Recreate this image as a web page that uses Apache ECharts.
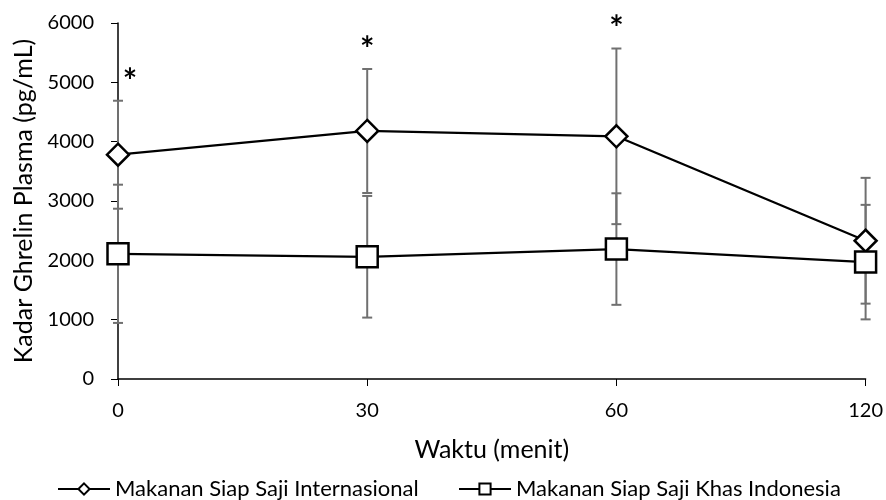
<!DOCTYPE html>
<html>
<head>
<meta charset="utf-8">
<script src="https://cdn.jsdelivr.net/npm/echarts@6/dist/echarts.min.js"></script>
<style>html,body{margin:0;padding:0;background:#fff}#c{width:886px;height:500px}</style>
</head>
<body>
<div id="c"></div>
<script>
var categories = ['0', '30', '60', '120'];
var seriesNames = ['Makanan Siap Saji Internasional', 'Makanan Siap Saji Khas Indonesia'];
var intlValues = [3780, 4180, 4090, 2330];
var intlErrors = [910, 1045, 1480, 1060];
var indoValues = [2110, 2060, 2190, 1970];
var indoErrors = [1165, 1025, 940, 965];
var intlStars = ['*', '*', '*', ''];
var yTicks = [0, 1000, 2000, 3000, 4000, 5000, 6000];
var xTitle = 'Waktu (menit)';
var yTitle = 'Kadar Ghrelin Plasma (pg/mL)';

var FONT = 'Lato';

function errData(vals, errs) {
  return vals.map(function (v, i) { return [i, v - errs[i], v + errs[i]]; });
}

function errRender(params, api) {
  var i = api.value(0);
  var lo = api.coord([i, api.value(1)]);
  var hi = api.coord([i, api.value(2)]);
  var w = 5;
  var st = { stroke: '#707070', lineWidth: 2 };
  var children = [
    { type: 'line', shape: { x1: lo[0], y1: lo[1], x2: hi[0], y2: hi[1] }, style: st },
    { type: 'line', shape: { x1: lo[0] - w, y1: lo[1], x2: lo[0] + w, y2: lo[1] }, style: st },
    { type: 'line', shape: { x1: hi[0] - w, y1: hi[1], x2: hi[0] + w, y2: hi[1] }, style: st }
  ];
  var star = params.seriesIndex === 0 ? intlStars[params.dataIndex] : '';
  if (star) {
    children.push({
      type: 'text',
      style: {
        text: star, x: hi[0] + (i === 0 ? 12 : 0), y: hi[1] - 19,
        fill: '#000', font: 'bold 34px ' + FONT, textAlign: 'center', textVerticalAlign: 'middle'
      }
    });
  }
  return { type: 'group', children: children };
}

var legendText = { fontFamily: FONT, fontSize: 22, lineHeight: 22, color: '#000' };

var chart = echarts.init(document.getElementById('c'), null, { renderer: 'canvas' });
chart.setOption({
  animation: false,
  textStyle: { fontFamily: FONT },
  grid: { left: 118, right: 19, top: 23, bottom: 121, containLabel: false },
  legend: [
    { left: 57, bottom: 0, padding: 0, itemWidth: 52, itemHeight: 14, textStyle: legendText, data: [seriesNames[0]] },
    { left: 458, bottom: 0, padding: 0, itemWidth: 52, itemHeight: 14, textStyle: legendText, data: [seriesNames[1]] }
  ],
  xAxis: {
    type: 'category', data: categories, boundaryGap: false,
    name: xTitle, nameLocation: 'middle', nameGap: 58,
    nameTextStyle: { fontFamily: FONT, fontSize: 25, color: '#000' },
    axisLine: { lineStyle: { color: '#000', width: 1.5 } },
    axisTick: { show: true, length: 7, alignWithLabel: true, lineStyle: { color: '#000' } },
    axisLabel: { color: '#000', fontSize: 20, fontFamily: FONT, margin: 22 },
    splitLine: { show: false }
  },
  yAxis: {
    type: 'value', min: yTicks[0], max: yTicks[yTicks.length - 1], interval: 1000,
    name: yTitle, nameLocation: 'middle', nameGap: 76, nameRotate: 90,
    nameTextStyle: { fontFamily: FONT, fontSize: 25, color: '#000' },
    axisLine: { show: true, lineStyle: { color: '#000', width: 1.5 } },
    axisTick: { show: true, length: 7, lineStyle: { color: '#000' } },
    axisLabel: { color: '#000', fontSize: 20, fontFamily: FONT, margin: 24, formatter: function (v) { return String(v); } },
    splitLine: { show: false }
  },
  series: [
    { type: 'custom', name: 'errIntl', renderItem: errRender, data: errData(intlValues, intlErrors), z: 1, clip: false, encode: { x: 0, y: [1, 2] }, silent: true },
    { type: 'custom', name: 'errIndo', renderItem: errRender, data: errData(indoValues, indoErrors), z: 1, clip: false, encode: { x: 0, y: [1, 2] }, silent: true },
    {
      type: 'line', name: seriesNames[0], data: intlValues, z: 3,
      symbol: 'diamond', symbolSize: 22, showAllSymbol: true,
      lineStyle: { color: '#000', width: 2.25 },
      itemStyle: { color: '#fff', borderColor: '#000', borderWidth: 2.5 }
    },
    {
      type: 'line', name: seriesNames[1], data: indoValues, z: 3,
      symbol: 'rect', symbolSize: 21, showAllSymbol: true,
      lineStyle: { color: '#000', width: 2.25 },
      itemStyle: { color: '#fff', borderColor: '#000', borderWidth: 2.5 }
    }
  ]
});
</script>
</body>
</html>
